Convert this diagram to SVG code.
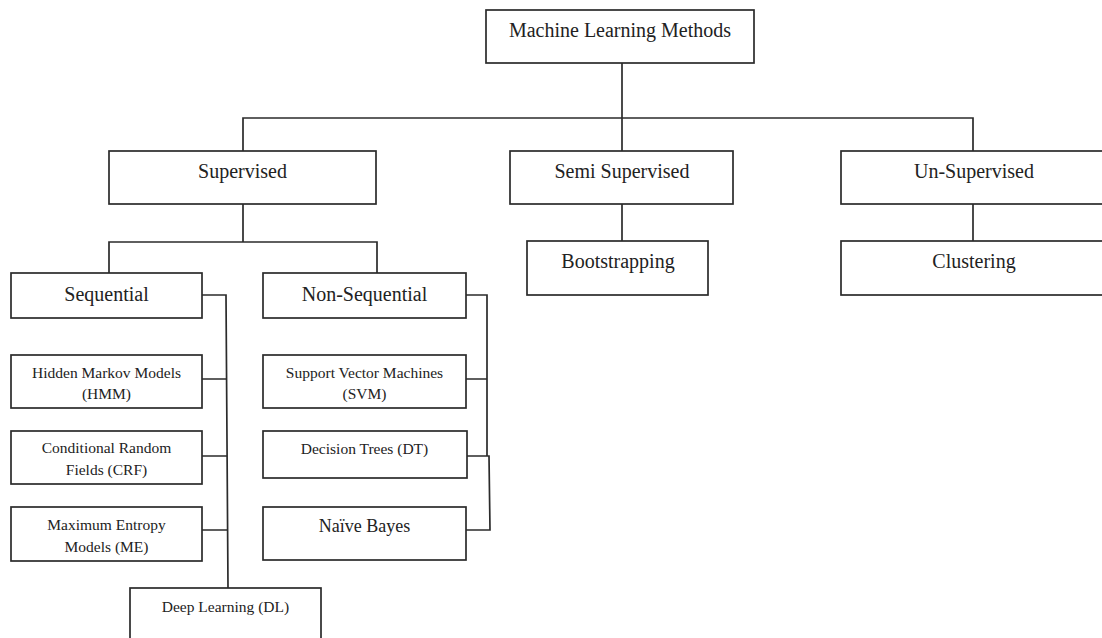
<svg xmlns="http://www.w3.org/2000/svg" width="1102" height="638" viewBox="0 0 1102 638">
<style>
.box{fill:#fff;stroke:#2b2b2b;stroke-width:1.7}
.ln{fill:none;stroke:#2b2b2b;stroke-width:1.7}
text{font-family:"Liberation Serif","Times New Roman",serif;fill:#222;text-anchor:middle}
.l{font-size:20px}
.m{font-size:18px}
.s{font-size:15.5px}
</style>
<rect width="1102" height="638" fill="#fff"/>
<g id="connectors">
<path class="ln" d="M622 63V151"/>
<path class="ln" d="M243 151V118H973V151"/>
<path class="ln" d="M243 204V242M109 273V242H377V273"/>
<path class="ln" d="M622 204V241"/>
<path class="ln" d="M973 204V241"/>
<path class="ln" d="M202 295H226L228 588"/>
<path class="ln" d="M202 379H227M202 456H227M202 530H228"/>
<path class="ln" d="M466 295H487V456"/>
<path class="ln" d="M466 379H487M466 456H489L490 530H466"/>
</g>
<g id="root"><rect class="box" x="486" y="10" width="268" height="53"/><text class="l" x="620" y="37">Machine Learning Methods</text></g>
<g id="supervised"><rect class="box" x="109" y="151" width="267" height="53"/><text class="l" x="242.5" y="178">Supervised</text></g>
<g id="semi"><rect class="box" x="510" y="151" width="223" height="53"/><text class="l" x="622" y="178">Semi Supervised</text></g>
<g id="unsupervised"><rect class="box" x="841" y="151" width="264" height="53"/><text class="l" x="974" y="178">Un-Supervised</text></g>
<g id="bootstrapping"><rect class="box" x="527" y="241" width="181" height="54"/><text class="l" x="618" y="268">Bootstrapping</text></g>
<g id="clustering"><rect class="box" x="841" y="241" width="264" height="54"/><text class="l" x="974" y="268">Clustering</text></g>
<g id="sequential"><rect class="box" x="11" y="273" width="191" height="45"/><text class="l" x="106.5" y="301">Sequential</text></g>
<g id="nonsequential"><rect class="box" x="263" y="273" width="203" height="45"/><text class="l" x="364.5" y="301">Non-Sequential</text></g>
<g id="hmm"><rect class="box" x="11" y="355" width="191" height="53"/><text class="s" x="106.5" y="378">Hidden Markov Models</text><text class="s" x="106.5" y="399">(HMM)</text></g>
<g id="crf"><rect class="box" x="11" y="431" width="191" height="53"/><text class="s" x="106.5" y="453">Conditional Random</text><text class="s" x="106.5" y="475">Fields (CRF)</text></g>
<g id="me"><rect class="box" x="11" y="507" width="191" height="54"/><text class="s" x="106.5" y="530">Maximum Entropy</text><text class="s" x="106.5" y="552">Models (ME)</text></g>
<g id="svm"><rect class="box" x="263" y="355" width="203" height="53"/><text class="s" x="364.5" y="378">Support Vector Machines</text><text class="s" x="364.5" y="399">(SVM)</text></g>
<g id="dt"><rect class="box" x="263" y="431" width="204" height="47"/><text class="s" x="364.5" y="454">Decision Trees (DT)</text></g>
<g id="nb"><rect class="box" x="263" y="507" width="203" height="53"/><text class="m" x="364.5" y="532">Naïve Bayes</text></g>
<g id="dl"><rect class="box" x="130" y="588" width="191" height="60"/><text class="s" x="225.5" y="612">Deep Learning (DL)</text></g>
</svg>
